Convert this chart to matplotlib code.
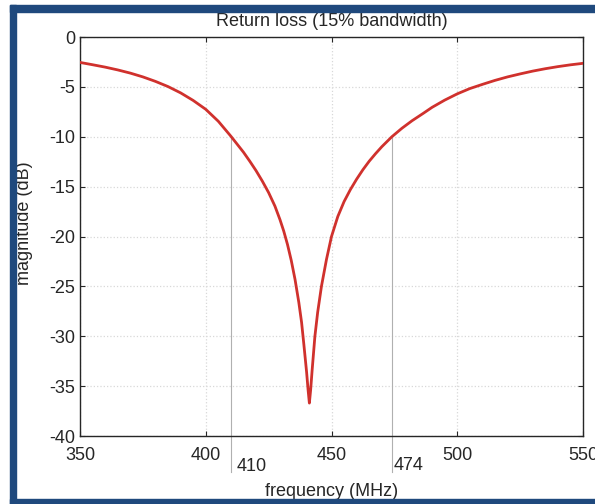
import matplotlib
matplotlib.use('Agg')
import matplotlib.pyplot as plt
from matplotlib.patches import Rectangle

plt.rcParams['font.family'] = ['Liberation Sans', 'DejaVu Sans']
plt.rcParams['axes.unicode_minus'] = False  # plain hyphen like the original

# return loss curve
freq = [350, 355, 360, 365, 370, 375, 380, 385, 390, 395,
        400, 405, 410, 412.5, 415, 417.5, 420, 422.5, 425, 427.5,
        429.5, 431, 432.5, 434, 435.5, 437, 438.1, 439, 440.1, 440.7,
        441.2, 441.7, 442.3, 443.4, 444.5, 446, 448, 450, 452.5, 455,
        457.5, 460, 462.5, 465, 467.5, 470, 474, 478, 482, 486.5,
        490, 495, 500, 505, 510, 515, 520, 525, 530, 535,
        540, 545, 550]
mag_db = [-2.55, -2.78, -3.02, -3.3, -3.62, -4.0, -4.45, -4.97, -5.6, -6.36,
          -7.25, -8.45, -9.95, -10.75, -11.55, -12.45, -13.4, -14.45, -15.6, -16.95,
          -18.3, -19.45, -20.8, -22.4, -24.3, -26.6, -28.6, -30.8, -33.6, -35.4,
          -36.7, -35.4, -33.4, -30.0, -27.6, -25.0, -22.3, -20.0, -18.0, -16.5,
          -15.3, -14.25, -13.3, -12.45, -11.7, -11.0, -10.0, -9.15, -8.4, -7.65,
          -7.05, -6.33, -5.7, -5.17, -4.75, -4.35, -4.0, -3.7, -3.42, -3.18,
          -2.97, -2.79, -2.64]

band_edges = [410, 474]
band_level = -10
xticks = [350, 400, 450, 500, 550]
yticks = [0, -5, -10, -15, -20, -25, -30, -35, -40]

txt = '#262626'
fig = plt.figure(figsize=(5.95, 5.04), dpi=100)
ax = fig.add_axes([80 / 595, 1 - 436 / 504, 503 / 595, 399 / 504])

ax.plot(freq, mag_db, color='#d0312d', lw=2.0, zorder=3,
        solid_joinstyle='round')

# -10 dB band edges, lines run below the axis
for f in band_edges:
    ax.plot([f, f], [band_level, -43.6], color='#b0b0b0', lw=0.8,
            clip_on=False, zorder=2)
ax.annotate(str(band_edges[0]), xy=(band_edges[0], -40), xytext=(4, -15.8),
            textcoords='offset points', ha='left', va='top',
            fontsize=13, color=txt, annotation_clip=False)
ax.annotate(str(band_edges[1]), xy=(band_edges[1], -40), xytext=(1, -14.8),
            textcoords='offset points', ha='left', va='top',
            fontsize=13, color=txt, annotation_clip=False)

ax.set_xlim(350, 550)
ax.set_ylim(-40, 0)
ax.set_xticks(xticks)
ax.set_yticks(yticks)
ax.grid(True, color='#d8d8d8', linestyle=':', lw=0.9)
ax.tick_params(direction='in', top=True, right=True, length=3.5, width=0.8,
               labelsize=13, labelcolor=txt, color=txt)
ax.tick_params(axis='x', pad=8)
ax.tick_params(axis='y', pad=3.5)
for s in ax.spines.values():
    s.set_color(txt)
    s.set_linewidth(1.0)

ax.set_title('Return loss (15% bandwidth)', fontsize=13, color=txt, pad=8)
ax.set_xlabel('frequency (MHz)', fontsize=13, color=txt)
ax.set_ylabel('magnitude (dB)', fontsize=13, color=txt)
ax.xaxis.set_label_coords(0.5, -0.118)
ax.yaxis.set_label_coords(-0.0934, 0.533)

# blue frame of the screenshot
blue = '#1f497d'
fig.patches.append(Rectangle((10 / 595, 1 - 12 / 504), 1, 7 / 504,
                             transform=fig.transFigure, color=blue, zorder=5))
fig.patches.append(Rectangle((10 / 595, 0), 6 / 595, 1 - 5 / 504,
                             transform=fig.transFigure, color=blue, zorder=5))
fig.patches.append(Rectangle((10 / 595, 0), 1, 5.5 / 504,
                             transform=fig.transFigure, color=blue, zorder=5))

fig.savefig('out.png', dpi=100)
